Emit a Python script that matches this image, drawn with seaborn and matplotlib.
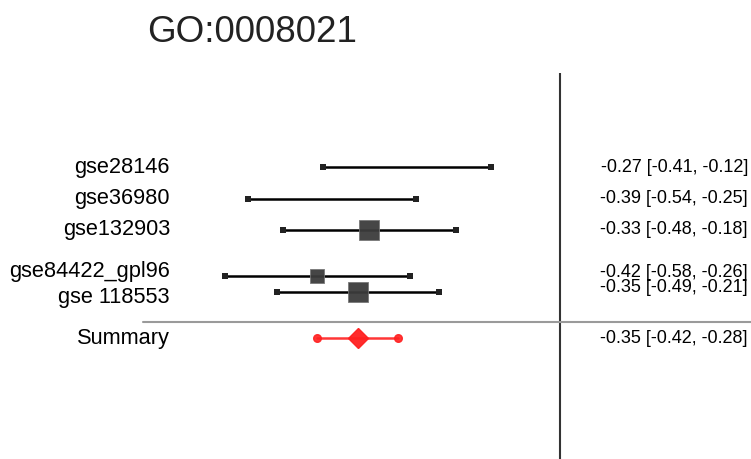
import numpy as np
import matplotlib.pyplot as plt
import pandas as pd
import seaborn as sns

sns.set_style('white')
plt.rcParams['font.family'] = ['Liberation Sans', 'DejaVu Sans']

# data
studies = ['gse28146', 'gse36980', 'gse132903', 'gse84422_gpl96', 'gse 118553']
est = [-0.27, -0.39, -0.33, -0.42, -0.35]
lower = [-0.41, -0.54, -0.48, -0.58, -0.49]
upper = [-0.12, -0.25, -0.18, -0.26, -0.21]
weight = [0.0, 0.0, 1.0, 0.45, 1.0]
rows = [1, 2, 3, 4.46, 4.97]

summary_est = -0.35
summary_lo = -0.42
summary_hi = -0.28
summary_row = 6.43

title = 'GO:0008021'

df = pd.DataFrame({'study': studies, 'est': est, 'lo': lower, 'hi': upper,
                   'w': weight, 'row': rows})

fig = plt.figure(figsize=(7.51, 4.59), dpi=100)
ax = fig.add_axes([0, 0, 1, 1])
ax.set_xlim(-560 / 578, 191 / 578)
ax.set_ylim(1 + 292 / 31.5, 1 - 167 / 31.5)
ax.axis('off')

# zero line and separator
ax.plot([0, 0], [1 - 94 / 31.5, 1 + 292 / 31.5], color='#333333', lw=1.5,
        solid_capstyle='butt', zorder=1)
ax.axhline(5.92, xmin=143 / 751, xmax=1, color='#9a9a9a', lw=1.5, zorder=1)

# confidence intervals
ax.hlines(df['row'], df['lo'], df['hi'], color='black', lw=1.8, zorder=2)
caps = pd.concat([df[['lo', 'row']].rename(columns={'lo': 'x'}),
                  df[['hi', 'row']].rename(columns={'hi': 'x'})])
sns.scatterplot(data=caps, x='x', y='row', marker='s', s=16, color='#222222',
                linewidth=0, ax=ax, zorder=3)

# study boxes sized by weight
sns.scatterplot(data=df, x='est', y='row', size='w', sizes=(0, 210),
                size_norm=(0, 1), marker='s', color='#3c3c3c', alpha=0.95,
                edgecolor='#777777', linewidth=0.6, legend=False, ax=ax,
                zorder=4)

# summary
ax.plot([summary_lo, summary_hi], [summary_row, summary_row], color='#ff2020',
        lw=1.8, alpha=0.9, zorder=3)
ax.plot([summary_lo, summary_hi], [summary_row, summary_row], 'o',
        color='#ff2020', ms=5.5, alpha=0.9, zorder=3)
ax.plot([summary_est], [summary_row], 'D', color='#ff2020', ms=10.5,
        alpha=0.95, zorder=4)

# text columns
trans = ax.get_yaxis_transform()
label_shift = [0, 0, 0, -0.15, 0.17]
value_shift = [0, 0, 0, -0.12, -0.13]
for i, r in df.iterrows():
    ax.text(170 / 751, r['row'] + label_shift[i], r['study'], transform=trans,
            ha='right', va='center', fontsize=15.7, color='black')
    ax.text(748 / 751, r['row'] + value_shift[i],
            f"{r['est']:.2f} [{r['lo']:.2f}, {r['hi']:.2f}]",
            transform=trans, ha='right', va='center', fontsize=13,
            color='black')
ax.text(170 / 751, summary_row, 'Summary', transform=trans, ha='right',
        va='center', fontsize=15.7, color='black')
ax.text(748 / 751, summary_row,
        f'{summary_est:.2f} [{summary_lo:.2f}, {summary_hi:.2f}]',
        transform=trans, ha='right', va='center', fontsize=13, color='black')

fig.text(147 / 751, 1 - 32 / 459, title, ha='left', va='center', fontsize=26.5,
         color='#222222')

fig.savefig('out.png', dpi=100)
